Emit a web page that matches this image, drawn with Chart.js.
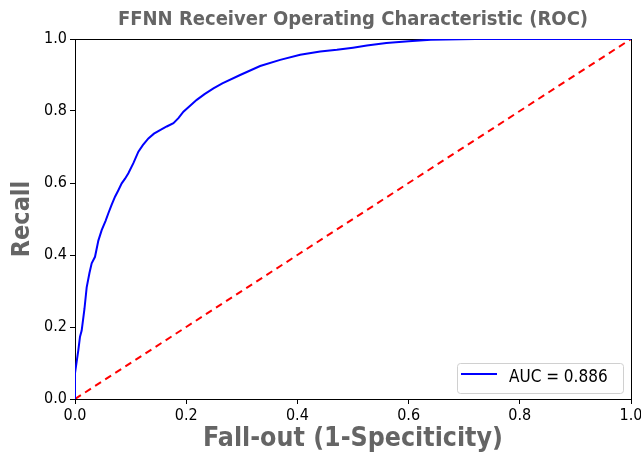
<!DOCTYPE html>
<html>
<head>
<meta charset="UTF-8">
<title>FFNN ROC</title>
<script src="https://cdn.jsdelivr.net/npm/chart.js"></script>
<style>
  body { margin: 0; background: #fff; }
  canvas { display: block; }
</style>
</head>
<body>
<canvas id="rocChart" width="641" height="457"></canvas>
<script>
// ROC curve
const fpr = [0, 0, 0.003, 0.006, 0.009, 0.012, 0.017, 0.021, 0.026, 0.030, 0.036, 0.042, 0.048,
  0.055, 0.060, 0.066, 0.072, 0.078, 0.084, 0.090, 0.096, 0.105, 0.114, 0.122, 0.132, 0.142,
  0.153, 0.165, 0.177, 0.186, 0.195, 0.205, 0.219, 0.233, 0.249, 0.265, 0.297, 0.333,
  0.369, 0.405, 0.441, 0.471, 0.500, 0.525, 0.560, 0.600, 0.640, 0.720, 0.850, 1.0];
const tpr = [0, 0.072, 0.104, 0.136, 0.173, 0.190, 0.250, 0.310, 0.350, 0.377, 0.395, 0.440, 0.469,
  0.495, 0.516, 0.540, 0.562, 0.580, 0.599, 0.612, 0.627, 0.655, 0.687, 0.705, 0.724, 0.737,
  0.747, 0.757, 0.766, 0.780, 0.798, 0.812, 0.831, 0.847, 0.863, 0.877, 0.900, 0.925,
  0.942, 0.956, 0.965, 0.970, 0.976, 0.982, 0.989, 0.994, 0.998, 1.0, 1.0, 1.0];
// chance line
const chanceX = [0, 1];
const chanceY = [0, 1];
const axisTicks = [0, 0.2, 0.4, 0.6, 0.8, 1.0];

const chartTitle = 'FFNN Receiver Operating Characteristic (ROC)';
const xLabel = 'Fall-out (1-Speciticity)';
const yLabel = 'Recall';
const curveLabel = 'AUC = 0.886';

const titleFont = '"DejaVu Sans Condensed", "DejaVu Sans", sans-serif';
const tickFont = { family: '"DejaVu Sans Condensed", "DejaVu Sans", sans-serif', size: 16 };
const grey = '#656565';

const toPoints = (xs, ys) => xs.map((x, i) => ({ x: x, y: ys[i] }));

// box around the plot + title centred over it
const frameTitle = {
  id: 'frameTitle',
  beforeDatasetsDraw(chart) {
    const { ctx, chartArea: a } = chart;
    ctx.save();
    ctx.strokeStyle = '#000';
    ctx.lineWidth = 1;
    ctx.strokeRect(Math.round(a.left) + 0.5, Math.round(a.top) + 0.5,
      Math.round(a.right - a.left), Math.round(a.bottom - a.top));
    ctx.restore();
  },
  afterDraw(chart) {
    const { ctx, chartArea: a } = chart;
    ctx.save();
    ctx.fillStyle = grey;
    ctx.font = 'bold 20px ' + titleFont;
    ctx.textAlign = 'center';
    ctx.textBaseline = 'middle';
    ctx.fillText(chartTitle, (a.left + a.right) / 2, 20);
    ctx.restore();
  }
};

// matplotlib style legend in the lower right corner
const cornerLegend = {
  id: 'cornerLegend',
  afterDatasetsDraw(chart) {
    const { ctx, chartArea: a } = chart;
    const ds = chart.data.datasets[0];
    const w = 166, h = 30;
    const x = a.right - 8 - w, y = a.bottom - 6 - h;
    ctx.save();
    ctx.beginPath();
    ctx.roundRect(x + 0.5, y + 0.5, w, h, 3);
    ctx.fillStyle = 'rgba(255,255,255,0.8)';
    ctx.fill();
    ctx.strokeStyle = '#d0d0d0';
    ctx.lineWidth = 1;
    ctx.stroke();
    ctx.beginPath();
    ctx.moveTo(x + 4, y + 11);
    ctx.lineTo(x + 40, y + 11);
    ctx.strokeStyle = ds.borderColor;
    ctx.lineWidth = 2;
    ctx.stroke();
    ctx.fillStyle = '#000';
    ctx.font = '17px ' + tickFont.family;
    ctx.textBaseline = 'middle';
    ctx.fillText(ds.label, x + 52, y + 15);
    ctx.restore();
  }
};

new Chart(document.getElementById('rocChart'), {
  type: 'scatter',
  data: {
    datasets: [
      {
        label: curveLabel,
        data: toPoints(fpr, tpr),
        showLine: true,
        borderColor: '#0000ff',
        borderWidth: 2,
        pointRadius: 0,
        tension: 0
      },
      {
        label: 'chance',
        data: toPoints(chanceX, chanceY),
        showLine: true,
        borderColor: '#ff0000',
        borderWidth: 2,
        borderDash: [7, 5],
        pointRadius: 0
      }
    ]
  },
  options: {
    responsive: false,
    animation: false,
    layout: { padding: { top: 39, right: 10, left: 0, bottom: 0 } },
    plugins: {
      legend: { display: false },
      tooltip: { enabled: false }
    },
    scales: {
      x: {
        type: 'linear',
        min: 0,
        max: 1,
        afterBuildTicks: s => { s.ticks = axisTicks.map(v => ({ value: v })); },
        // fixed height, and let the "1.0" label hang off the edge like the original
        afterFit: s => { s.height = 58; s.paddingLeft = 0; s.paddingRight = 0; },
        ticks: { color: '#000', font: tickFont, padding: 2, maxRotation: 0, callback: v => v.toFixed(1) },
        grid: { display: true, drawOnChartArea: false, drawTicks: true, tickLength: 5, color: '#000' },
        border: { display: true, color: '#000' },
        title: { display: true, text: xLabel, color: grey, padding: { top: 0, bottom: 2 },
          font: { family: titleFont, size: 26.5, weight: 'bold' } }
      },
      y: {
        type: 'linear',
        min: 0,
        max: 1,
        afterBuildTicks: s => { s.ticks = axisTicks.map(v => ({ value: v })); },
        afterFit: s => { s.width = 75; s.paddingTop = 0; s.paddingBottom = 0; },
        ticks: { color: '#000', font: tickFont, padding: 3, callback: v => v.toFixed(1) },
        grid: { display: true, drawOnChartArea: false, drawTicks: true, tickLength: 5, color: '#000' },
        border: { display: true, color: '#000' },
        title: { display: true, text: yLabel, color: grey, padding: { top: 7, bottom: 0 },
          font: { family: titleFont, size: 25, weight: 'bold' } }
      }
    }
  },
  plugins: [frameTitle, cornerLegend]
});
</script>
</body>
</html>
